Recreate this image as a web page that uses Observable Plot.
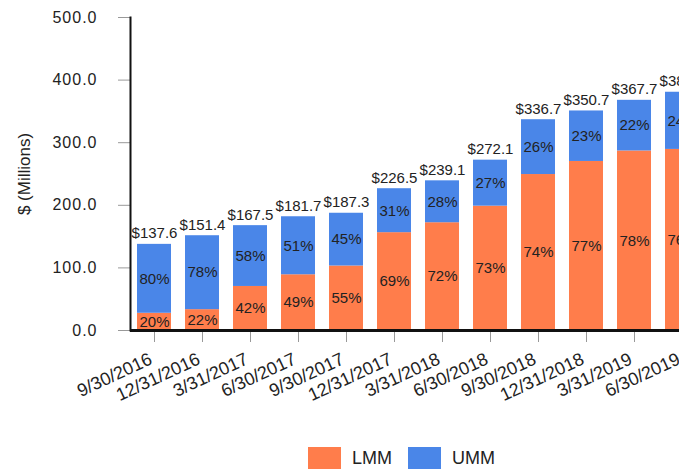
<!DOCTYPE html>
<html>
<head>
<meta charset="utf-8">
<script src="https://cdn.jsdelivr.net/npm/d3@7"></script>
<script src="https://cdn.jsdelivr.net/npm/@observablehq/plot@0.6"></script>
<style>
  html, body { margin: 0; padding: 0; background: #fff; overflow: hidden; }
  body { width: 679px; height: 470px; font-family: "Liberation Sans", Arial, sans-serif; }
  #legend { display: flex; align-items: center; margin-left: 308px; margin-top: 27px; font-size: 18px; color: #222; }
  #legend .sw { width: 33px; height: 22px; display: inline-block; }
  #legend .lb { margin-left: 11px; margin-right: 16px; }
</style>
</head>
<body>
<div id="chart"></div>
<div id="legend"></div>
<script>
const dates = ["9/30/2016", "12/31/2016", "3/31/2017", "6/30/2017", "9/30/2017", "12/31/2017",
               "3/31/2018", "6/30/2018", "9/30/2018", "12/31/2018", "3/31/2019", "6/30/2019"];
const totals = [137.6, 151.4, 167.5, 181.7, 187.3, 226.5, 239.1, 272.1, 336.7, 350.7, 367.7, 380.6];
const lmmPct = [20, 22, 42, 49, 55, 69, 72, 73, 74, 77, 78, 76];
const ummPct = [80, 78, 58, 51, 45, 31, 28, 27, 26, 23, 22, 24];
const seriesNames = ["LMM", "UMM"];
const seriesColors = ["#FF7D4B", "#4A86E8"];
const yTicks = [0, 100, 200, 300, 400, 500];

const rows = [];
dates.forEach((d, i) => {
  rows.push({date: d, series: "LMM", value: totals[i] * lmmPct[i] / 100, pct: lmmPct[i]});
  rows.push({date: d, series: "UMM", value: totals[i] * ummPct[i] / 100, pct: ummPct[i]});
});
const totalRows = dates.map((d, i) => ({date: d, total: totals[i]}));

const font = '"Liberation Sans", Arial, sans-serif';

// rotated tick labels: offsets are applied in the rotated frame
const rot = 25, rad = rot * Math.PI / 180;
const offX = 3, offY = 22;
const ldx = offX * Math.cos(rad) - offY * Math.sin(rad);
const ldy = offX * Math.sin(rad) + offY * Math.cos(rad);

const chart = Plot.plot({
  width: 679,
  height: 420,
  marginLeft: 130,
  marginRight: 0,
  marginTop: 17,
  marginBottom: 90,
  style: {fontFamily: font, background: "#fff", overflow: "hidden"},
  x: {domain: dates, range: [130, 706.8], paddingInner: 0.288, paddingOuter: 0.127, align: 0.5, axis: null},
  y: {domain: [0, 500], axis: null},
  color: {domain: seriesNames, range: seriesColors},
  marks: [
    Plot.axisY({ticks: yTicks, tickSize: 12, tickPadding: 21, stroke: "#999", fill: "#222",
                fontSize: 16, tickFormat: d3.format(".1f"), label: null}),
    Plot.axisX({tickSize: 12, stroke: "#999", fill: "none", label: null}),
    Plot.barY(rows, {x: "date", y: "value", fill: "series"}),
    Plot.text(rows, Plot.stackY({x: "date", y: "value", text: d => d.pct + "%",
              fill: "#222", fontSize: 15, lineAnchor: "middle"})),
    Plot.text(totalRows, {x: "date", y: "total", text: d => "$" + d3.format(".1f")(d.total),
              fill: "#222", fontSize: 15, lineAnchor: "bottom", dy: -6}),
    Plot.text(dates, {x: d => d, text: d => d, frameAnchor: "bottom", rotate: -rot,
              textAnchor: "end", lineAnchor: "top", dx: ldx, dy: ldy, fontSize: 18, fill: "#222"}),
    Plot.text(["$ (Millions)"], {frameAnchor: "left", rotate: -90, dx: -106, textAnchor: "middle",
              lineAnchor: "middle", fontSize: 17, fill: "#222"}),
    Plot.ruleY([0], {stroke: "#111", strokeWidth: 3}),
    Plot.frame({anchor: "left", stroke: "#111", strokeWidth: 2})
  ]
});
chart.querySelectorAll("text").forEach(t => {
  if (/^\d+\.\d$/.test(t.textContent)) t.style.letterSpacing = "1px";
});
document.getElementById("chart").appendChild(chart);

const legend = document.getElementById("legend");
seriesNames.forEach((s, i) => {
  const sw = document.createElement("span");
  sw.className = "sw";
  sw.style.background = seriesColors[i];
  const lb = document.createElement("span");
  lb.className = "lb";
  lb.textContent = s;
  legend.appendChild(sw);
  legend.appendChild(lb);
});
</script>
</body>
</html>
